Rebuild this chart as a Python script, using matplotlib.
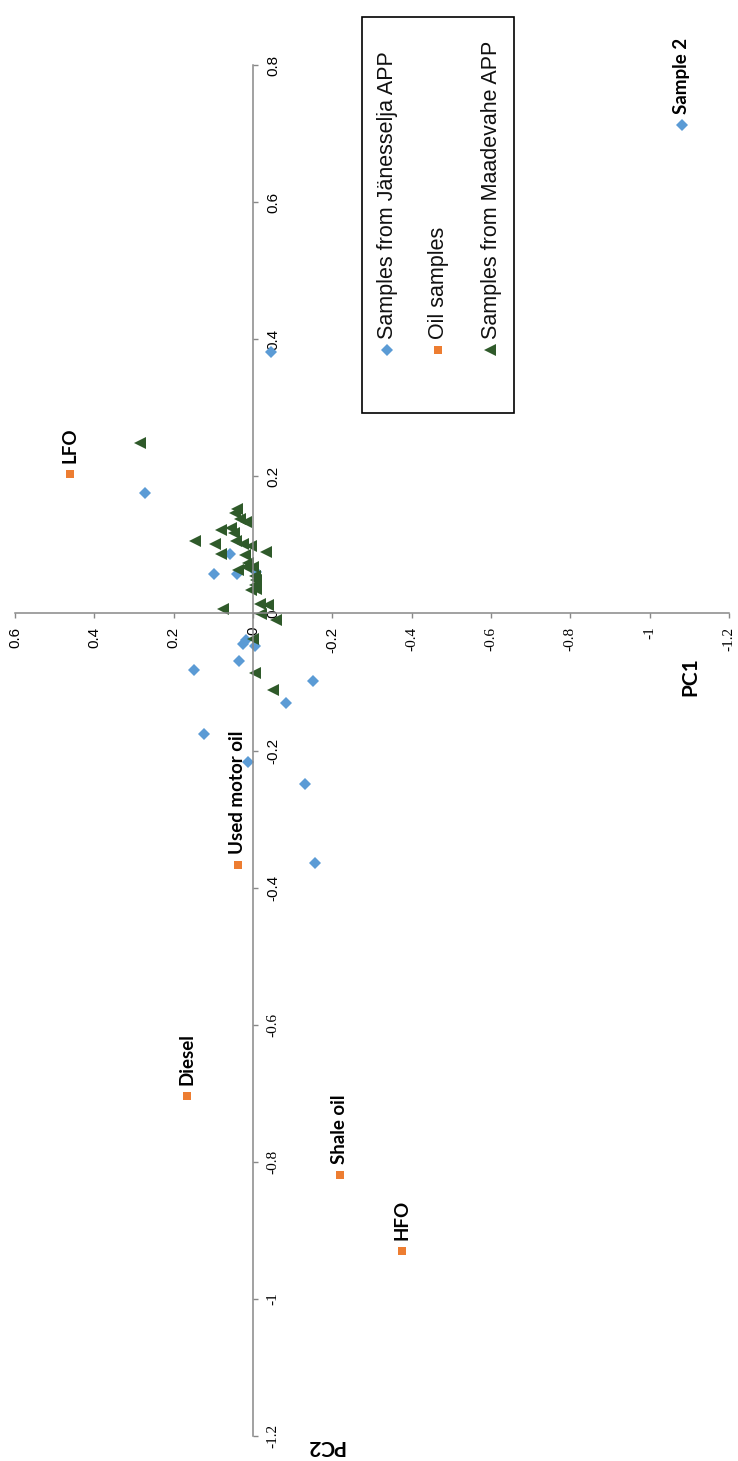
import matplotlib
matplotlib.use("Agg")
import matplotlib.pyplot as plt
from matplotlib.lines import Line2D
from matplotlib.patches import Rectangle

# PC scores read from the (rotated) chart
jan_pc1 = [-1.081, -0.045, 0.272, 0.058, 0.098, 0.040, -0.008, 0.025, 0.018, -0.005,
           0.035, 0.149, -0.151, -0.083, 0.124, 0.013, -0.131, -0.156]
jan_pc2 = [0.713, 0.382, 0.175, 0.086, 0.057, 0.058, 0.061, -0.045, -0.039, -0.048,
           -0.070, -0.083, -0.099, -0.131, -0.176, -0.217, -0.249, -0.364]

oil_names = ["LFO", "Used motor oil", "Diesel", "Shale oil", "HFO"]
oil_pc1 = [0.461, 0.038, 0.166, -0.219, -0.376]
oil_pc2 = [0.203, -0.367, -0.704, -0.819, -0.930]

maa_pc1 = [0.285, 0.040, 0.045, 0.033, 0.018, 0.081, 0.055, 0.146, 0.096, 0.043,
           0.025, 0.005, -0.033, 0.081, 0.020, 0.013, 0.038, 0.018, 0.000, -0.005,
           -0.008, -0.005, 0.005, -0.008, 0.076, -0.018, -0.038, -0.020, -0.058, 0.000,
           -0.005, -0.050, 0.048]
maa_pc2 = [0.248, 0.152, 0.146, 0.137, 0.134, 0.122, 0.124, 0.106, 0.101, 0.106,
           0.101, 0.099, 0.090, 0.086, 0.085, 0.074, 0.063, 0.067, 0.067, 0.055,
           0.048, 0.041, 0.034, 0.035, 0.006, 0.013, 0.012, -0.001, -0.009, -0.038,
           -0.087, -0.112, 0.117]

pc1_ticks = [0.6, 0.4, 0.2, 0, -0.2, -0.4, -0.6, -0.8, -1, -1.2]
pc2_ticks = [0.8, 0.6, 0.4, 0.2, 0, -0.2, -0.4, -0.6, -0.8, -1, -1.2]

legend_labels = ["Samples from Jänesselja APP", "Oil samples", "Samples from Maadevahe APP"]

BLUE = "#5B9BD5"
ORANGE = "#ED7D31"
GREEN = "#2F5A2A"
AXIS = "#888888"

W, H = 738, 1461
fig = plt.figure(figsize=(W / 100, H / 100), dpi=100)


def fx(px):
    return px / W


def fy(py):
    return 1 - py / H


# whole chart is turned 90 degrees: PC1 runs left-right, PC2 up-down
ax = fig.add_axes([fx(15), fy(1436), fx(729) - fx(15), fy(65) - fy(1436)])
ax.set_xlim(0.6, -1.2)
ax.set_ylim(-1.2, 0.8)

ax.plot(jan_pc1, jan_pc2, ls="none", marker="D", ms=6.5, color=BLUE, mew=0)
ax.plot(oil_pc1, oil_pc2, ls="none", marker="s", ms=5.5, color=ORANGE, mew=0)
ax.plot(maa_pc1, maa_pc2, ls="none", marker="<", ms=8.5, color=GREEN, mew=0)

lab_font = dict(family="Lato", weight="bold", size=13.5, rotation=90)
for name, x, y in zip(oil_names, oil_pc1, oil_pc2):
    ax.annotate(name, (x, y), xytext=(0, 8), textcoords="offset points",
                ha="center", va="bottom", **lab_font)
ax.annotate("Sample 2", (jan_pc1[0], jan_pc2[0]), xytext=(0, 8),
            textcoords="offset points", ha="center", va="bottom", **lab_font)

# axes crossing at the origin
for s in ["top", "left"]:
    ax.spines[s].set_visible(False)
ax.spines["bottom"].set_position(("data", 0))
ax.spines["right"].set_position(("data", 0))
for s in ["bottom", "right"]:
    ax.spines[s].set_color(AXIS)
    ax.spines[s].set_linewidth(1.1)
ax.yaxis.set_ticks_position("right")
ax.xaxis.set_ticks_position("bottom")

ax.set_xticks(pc1_ticks, [f"{t:g}" for t in pc1_ticks])
ax.set_yticks(pc2_ticks, [f"{t:g}" for t in pc2_ticks])
ax.tick_params(axis="both", direction="out", length=3.5, width=1, color=AXIS,
               labelsize=11, pad=6)
for lab, t in zip(ax.get_xticklabels(), pc1_ticks):
    lab.set_rotation(90)
    lab.set_va("top")
    lab.set_ha("center")
    lab.set_fontfamily(["Liberation Serif"] if t <= -0.4 else ["Liberation Sans"])
for lab, t in zip(ax.get_yticklabels(), pc2_ticks):
    lab.set_rotation(90)
    lab.set_va("center")
    lab.set_ha("left")
    lab.set_fontfamily(["Liberation Serif"] if t <= -0.6 else ["Liberation Sans"])

# axis titles
fig.text(fx(690), fy(677), "PC1", rotation=90, ha="center", va="center",
         family="Lato", weight="bold", size=15)
fig.text(fx(325), fy(1446), "PC2", rotation=180, ha="center", va="center",
         family="Lato", weight="bold", size=15)

# legend box, drawn turned like the rest
fig.patches.append(Rectangle((fx(362), fy(413)), fx(514) - fx(362), fy(17) - fy(413),
                             transform=fig.transFigure, fill=False, ec="black", lw=1.2))
leg_x = [387, 438, 490]
leg_marks = [("D", 6, BLUE), ("s", 6, ORANGE), ("<", 8, GREEN)]
for xp, label, (m, ms, c) in zip(leg_x, legend_labels, leg_marks):
    fig.lines.append(Line2D([fx(xp)], [fy(350)], transform=fig.transFigure,
                            marker=m, ms=ms, color=c, mew=0, ls="none"))
    fig.text(fx(xp + 1), fy(339), label, rotation=90, ha="center", va="bottom",
             family="Liberation Sans", size=15.5, color="#111111")

fig.savefig("out.png", dpi=100)
